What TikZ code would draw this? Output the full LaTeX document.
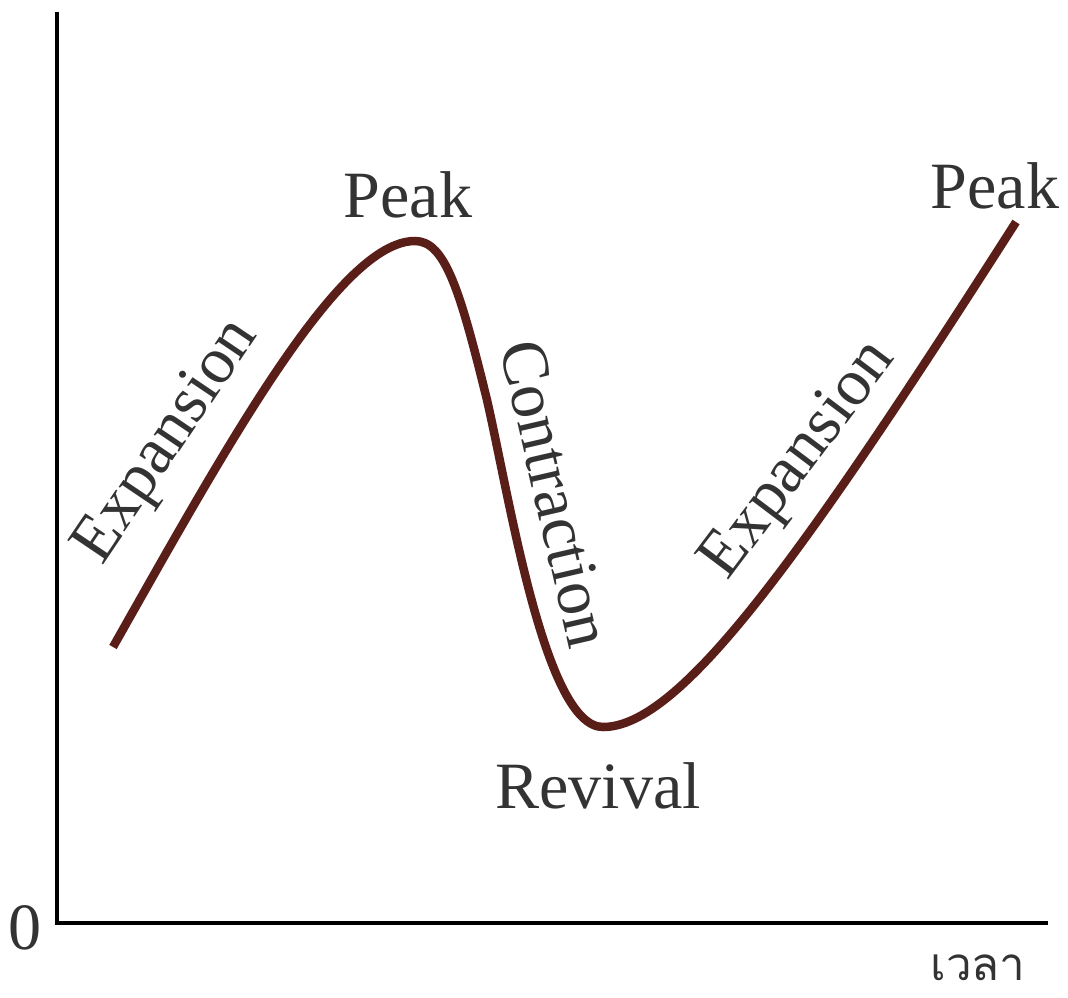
\documentclass[tikz,border=0pt]{standalone}
\usepackage{fontspec}
\setmainfont{Liberation Serif}
\newfontfamily\thaifont[Script=Thai]{Loma}
\usetikzlibrary{positioning}

\definecolor{cyclebrown}{HTML}{5A1E18}
\definecolor{labelgray}{HTML}{333333}

\tikzset{
  cyclelabel/.style={text=labelgray, inner sep=0pt, font=\fontsize{18.8}{22}\selectfont},
  axisline/.style={line width=0.04cm, black},
  cycleline/.style={line width=0.085cm, cyclebrown}
}

\begin{document}
\begin{tikzpicture}[x=0.01cm,y=-0.01cm]
    \useasboundingbox (0,0) rectangle (1068,997);

    % Axes
    \draw[axisline] (57,12) -- (57,923) -- (1048,923);
    \node[cyclelabel] (zero) at (25,928) {0};
    \node[cyclelabel, font=\thaifont\fontsize{13}{16}\selectfont] (time) at (978,968) {เวลา};

    % Business cycle
    \draw[cycleline] (113,647) .. controls (230,440) and (340,241) .. (415,241)
        .. controls (445,241) and (460,290) .. (487,400)
        .. controls (510,500) and (545,727) .. (603,727)
        .. controls (680,727) and (800,560) .. (1016,222);

    % Phase labels
    \node[cyclelabel] (peakA) at (408,195) {Peak};
    \node[cyclelabel] (peakB) at (995,186) {Peak};
    \node[cyclelabel] (revival) at (598,786) {Revival};
    \node[cyclelabel, rotate=56] (expA) at (168,442) {Expansion};
    \node[cyclelabel, rotate=-77] (contr) at (556,494) {Contraction};
    \node[cyclelabel, rotate=53] (expB) at (800,461) {Expansion};
\end{tikzpicture}
\end{document}
